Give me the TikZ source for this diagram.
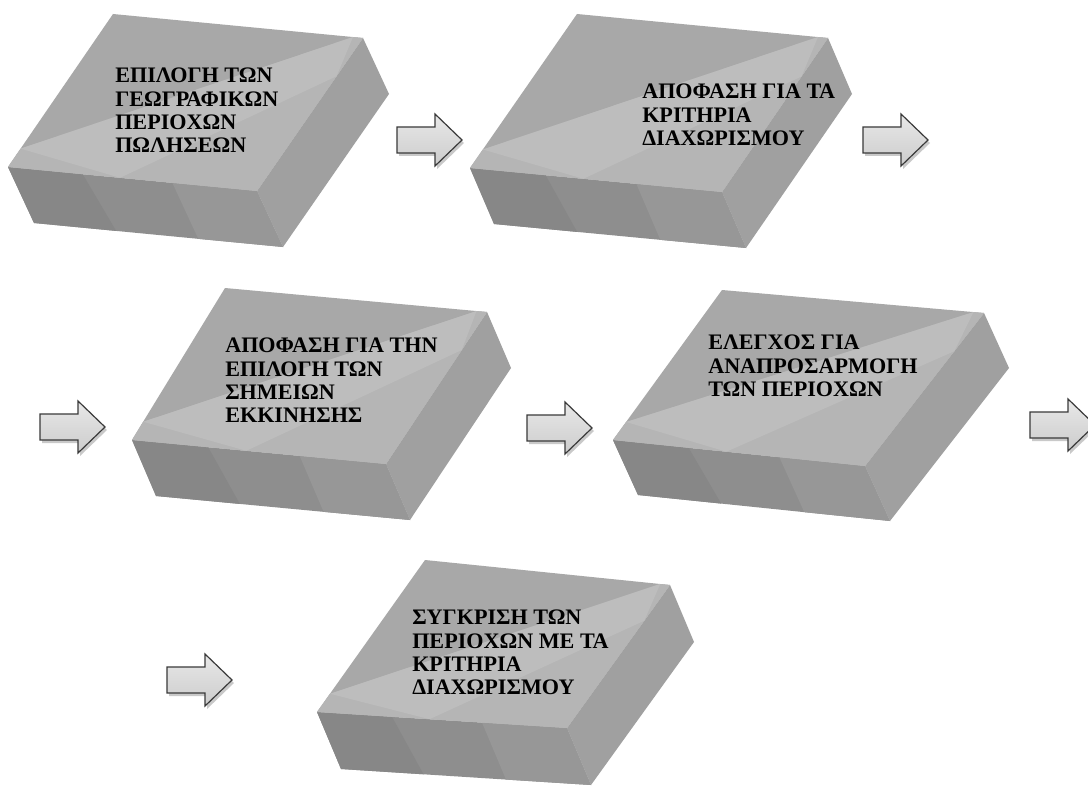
\documentclass[tikz,border=0pt]{standalone}
\usepackage{fontspec}
\setmainfont{Liberation Serif}
\usetikzlibrary{calc}
\definecolor{topdark}{HTML}{A8A8A8}
\definecolor{toplight}{HTML}{B5B5B5}
\definecolor{topband}{HTML}{BDBDBD}
\definecolor{frontA}{HTML}{878787}
\definecolor{frontB}{HTML}{8E8E8E}
\definecolor{frontC}{HTML}{979797}
\definecolor{sideface}{HTML}{A0A0A0}
\definecolor{arrowline}{HTML}{3A3A3A}
\definecolor{arrowtop}{HTML}{E8E8E8}
\definecolor{arrowbot}{HTML}{CCCCCC}
\tikzset{
  boxtext/.style={anchor=north west, inner sep=0pt, align=left,
    font=\bfseries\fontsize{16.6pt}{17.4pt}\selectfont, text=black},
  blockarrow/.pic={
    \fill[gray!70, opacity=.6] (2,-10) -- (40,-10) -- (40,-23) -- (67,3) -- (40,29) -- (40,16) -- (2,16) -- cycle;
    \path[draw=arrowline, line width=0.9pt, line join=miter, top color=arrowtop, bottom color=arrowbot]
      (0,-13) -- (38,-13) -- (38,-26) -- (65,0) -- (38,26) -- (38,13) -- (0,13) -- cycle;
  }
}
\newcommand\mycuboid[6]{%
  \coordinate (#1a) at (#2);
  \coordinate (#1b) at (#3);
  \coordinate (#1c) at (#4);
  \coordinate (#1d) at (#5);
  \coordinate (#1bb) at ($(#1b)+(#6)$);
  \coordinate (#1cc) at ($(#1c)+(#6)$);
  \coordinate (#1dd) at ($(#1d)+(#6)$);
  % front face
  \fill[frontB] (#1d) -- (#1c) -- (#1cc) -- (#1dd) -- cycle;
  \fill[frontA] (#1d) -- ($(#1d)!0.30!(#1c)$) -- ($(#1dd)!0.33!(#1cc)$) -- (#1dd) -- cycle;
  \fill[frontC] ($(#1d)!0.66!(#1c)$) -- (#1c) -- (#1cc) -- ($(#1dd)!0.66!(#1cc)$) -- cycle;
  % right face
  \fill[sideface] (#1c) -- (#1b) -- (#1bb) -- (#1cc) -- cycle;
  % top face
  \fill[topdark] (#1a) -- (#1b) -- (#1c) -- (#1d) -- cycle;
  \fill[toplight] ($(#1d)!0.12!(#1a)$) -- ($(#1a)!0.96!(#1b)$) -- (#1b) -- (#1c) -- (#1d) -- cycle;
  \fill[topband] ($(#1d)!0.12!(#1a)$) -- ($(#1a)!0.96!(#1b)$) -- ($(#1b)!0.25!(#1c)$) -- ($(#1d)!0.45!(#1c)$) -- cycle;
}
\begin{document}
\begin{tikzpicture}[x=0.75pt, y=-0.75pt]
\useasboundingbox (0,0) rectangle (1088,788);
\fill[white] (0,0) rectangle (1088,788);
\clip (0,0) rectangle (1088,788);

\mycuboid{bA}{113,14}{363,38}{257,191}{8,167}{26,56}
\mycuboid{bB}{577,14}{828,38}{722,192}{470,168}{24,56}
\mycuboid{bC}{225,288}{487,312}{386,464}{132,440}{24,56}
\mycuboid{bD}{722,290}{984,313}{865,466}{613,440}{25,55}
\mycuboid{bE}{425,560}{670,585}{567,728}{317,712}{24,57}

\node[boxtext] (t1) at (115,68) {ΕΠΙΛΟΓΗ ΤΩΝ\\ΓΕΩΓΡΑΦΙΚΩΝ\\ΠΕΡΙΟΧΩΝ\\ΠΩΛΗΣΕΩΝ};
\node[boxtext] (t2) at (642,84) {ΑΠΟΦΑΣΗ ΓΙΑ ΤΑ\\ΚΡΙΤΗΡΙΑ\\ΔΙΑΧΩΡΙΣΜΟΥ};
\node[boxtext] (t3) at (225,338) {ΑΠΟΦΑΣΗ ΓΙΑ ΤΗΝ\\ΕΠΙΛΟΓΗ ΤΩΝ\\ΣΗΜΕΙΩΝ\\ΕΚΚΙΝΗΣΗΣ};
\node[boxtext] (t4) at (708,335) {ΕΛΕΓΧΟΣ ΓΙΑ\\ΑΝΑΠΡΟΣΑΡΜΟΓΗ\\ΤΩΝ ΠΕΡΙΟΧΩΝ};
\node[boxtext] (t5) at (412,610) {ΣΥΓΚΡΙΣΗ ΤΩΝ\\ΠΕΡΙΟΧΩΝ ΜΕ ΤΑ\\ΚΡΙΤΗΡΙΑ\\ΔΙΑΧΩΡΙΣΜΟΥ};

\pic at (397,140) {blockarrow};
\pic at (863,140) {blockarrow};
\pic at (40,427) {blockarrow};
\pic at (527,428) {blockarrow};
\pic at (1030,425) {blockarrow};
\pic at (167,680) {blockarrow};
\end{tikzpicture}
\end{document}
